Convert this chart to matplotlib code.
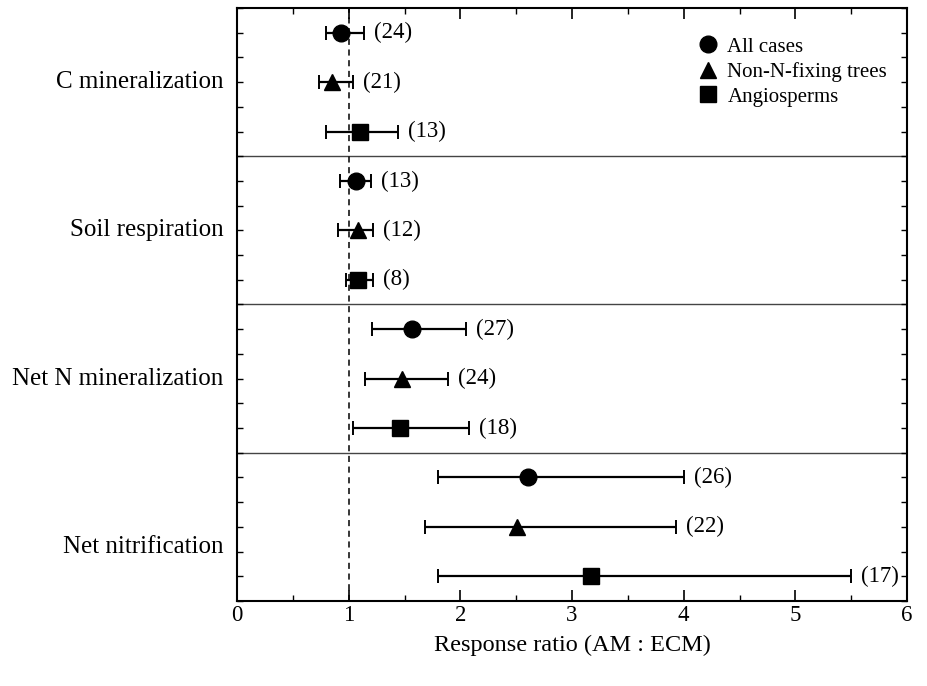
import matplotlib
matplotlib.use("Agg")
import matplotlib.pyplot as plt
from matplotlib.ticker import MultipleLocator

plt.rcParams["font.family"] = ["Liberation Serif", "DejaVu Serif"]

groups = ["C mineralization", "Soil respiration", "Net N mineralization", "Net nitrification"]
group_label_offsets = [1.5, 1.5, 1.5, 1.9]
series = ["All cases", "Non-N-fixing trees", "Angiosperms"]
markers = ["o", "^", "s"]
marker_sizes = [12, 12, 11]

# rows: one list per series, in group order
means = [
    [0.93, 1.07, 1.57, 2.61],
    [0.85, 1.08, 1.48, 2.51],
    [1.10, 1.08, 1.46, 3.17],
]
lows = [
    [0.80, 0.92, 1.21, 1.80],
    [0.73, 0.90, 1.15, 1.68],
    [0.80, 0.98, 1.04, 1.80],
]
highs = [
    [1.14, 1.20, 2.05, 4.00],
    [1.04, 1.22, 1.89, 3.93],
    [1.44, 1.22, 2.08, 5.50],
]
counts = [
    [24, 13, 27, 26],
    [21, 12, 24, 22],
    [13, 8, 18, 17],
]

fig = plt.figure(figsize=(9.28, 6.86), dpi=100)
ax = fig.add_axes([0.2554, 0.124, 0.722, 0.8643])

for s in range(len(series)):
    for g in range(len(groups)):
        y = g * 3 + s + 0.5
        m = means[s][g]
        lo, hi = lows[s][g], highs[s][g]
        ax.errorbar(m, y, xerr=[[m - lo], [hi - m]], fmt="none", ecolor="black",
                    elinewidth=1.6, capsize=5, capthick=1.4, zorder=2)
        ax.plot(m, y, marker=markers[s], color="black", markersize=marker_sizes[s],
                linestyle="none", zorder=3, label=series[s] if g == 0 else None)
        ax.text(hi + 0.09, y, f"({counts[s][g]})", va="center", ha="left", fontsize=16.5)

for g in range(1, len(groups)):
    ax.axhline(g * 3, color="#444444", linewidth=1.0, zorder=1)

ax.axvline(1, color="black", linestyle=(0, (4, 3)), linewidth=1.1, zorder=1)

ax.set_xlim(0, 6)
ax.set_ylim(12, 0)
ax.xaxis.set_major_locator(MultipleLocator(1))
ax.xaxis.set_minor_locator(MultipleLocator(0.5))
ax.yaxis.set_major_locator(MultipleLocator(0.5))
ax.set_yticklabels([])
ax.tick_params(axis="x", which="major", direction="in", length=8, width=1.2,
               top=True, labelsize=16.5, pad=3)
ax.tick_params(axis="x", which="minor", direction="in", length=4, width=1.0, top=True)
ax.tick_params(axis="y", which="major", direction="in", length=4, width=1.0,
               right=True, labelleft=False)
for sp in ax.spines.values():
    sp.set_linewidth(1.5)

for g, name in enumerate(groups):
    ax.text(-0.12, g * 3 + group_label_offsets[g], name, ha="right", va="center", fontsize=18)

ax.set_xlabel("Response ratio (AM : ECM)", fontsize=17.5, labelpad=6)

ax.legend(loc="upper left", bbox_to_anchor=(0.665, 0.972), frameon=False, fontsize=15,
          handletextpad=0.35, labelspacing=0.25, borderaxespad=0.2, handlelength=1.2)

fig.savefig("out.png", dpi=100)
